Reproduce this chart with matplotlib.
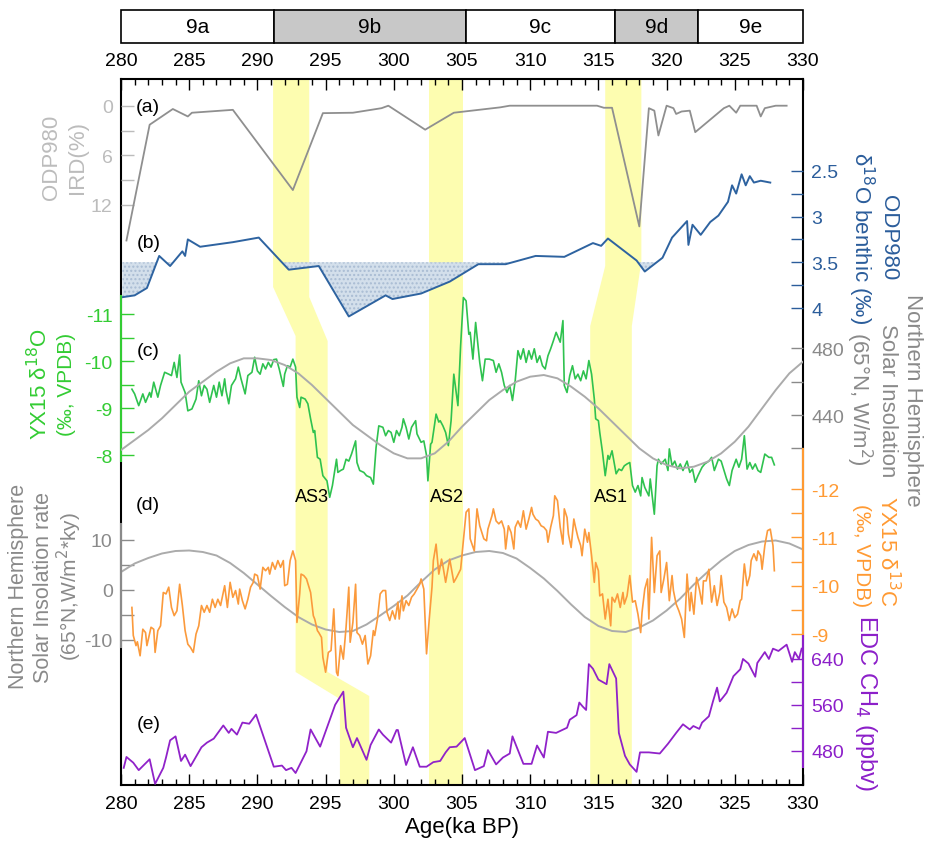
import numpy as np
import matplotlib
matplotlib.use('Agg')
import matplotlib.pyplot as plt
from matplotlib.patches import Polygon, Rectangle

plt.rcParams['font.family'] = ['Liberation Sans', 'DejaVu Sans']

# ---------------- data ----------------
# marine isotope substages (ka BP)
stage_names = ['9a', '9b', '9c', '9d', '9e']
stage_edges = [280, 291.2, 305.3, 316.2, 322.3, 330]
stage_fill = ['white', '#c8c8c8', 'white', '#c8c8c8', 'white']

# (a) ODP980 IRD (%)
ird_age = [280.4, 282.1, 283.8, 284.9, 285.2, 288.2, 292.6, 294.8, 297.0, 299.1, 299.6,
           302.3, 304.4, 307.8, 308.5, 314.9, 315.4, 316.0, 318.0, 318.7, 319.1, 319.4,
           320.0, 320.5, 320.7, 321.1, 321.7, 322.1, 324.2, 324.6, 325.1, 325.4, 326.6,
           326.9, 327.2, 328.0, 328.8]
ird_val = [16.3, 2.3, 0.4, 1.3, 0.85, 0.5, 10.2, 0.9, 0.85, 0.3, 0.0,
           2.9, 0.85, 0.2, 0.0, 0.0, 0.25, 0.25, 14.6, 0.3, 0.6, 3.6,
           0.0, 0.3, 1.0, 0.7, 0.6, 3.2, 0.3, 0.0, 0.85, 0.0, 0.0,
           1.3, 0.3, 0.0, 0.0]

# (b) ODP980 benthic d18O
ben_age = [280.1, 281.0, 281.9, 282.8, 283.6, 284.5, 284.7, 284.9, 285.8, 288.2, 290.1,
           292.3, 294.5, 296.7, 299.4, 299.9, 302.0, 304.1, 306.2, 308.2, 310.4, 312.5,
           314.6, 315.2, 315.7, 317.8, 318.4, 319.7, 320.4, 321.5, 321.6, 321.9, 322.5,
           323.2, 323.8, 324.5, 324.8, 325.1, 325.5, 325.8, 326.1, 326.4, 326.9, 327.6]
ben_val = [3.88, 3.86, 3.78, 3.43, 3.54, 3.38, 3.43, 3.25, 3.33, 3.28, 3.23,
           3.58, 3.54, 4.09, 3.86, 3.90, 3.84, 3.71, 3.52, 3.52, 3.43, 3.44,
           3.29, 3.32, 3.24, 3.48, 3.60, 3.45, 3.23, 3.05, 3.31, 3.09, 3.20,
           3.06, 2.99, 2.84, 2.66, 2.75, 2.54, 2.66, 2.56, 2.63, 2.61, 2.63]

# (c) YX15 d18O
d18_age = [280.8, 281.0, 281.3, 281.6, 281.8, 282.1, 282.2, 282.4, 282.7, 282.9, 283.2,
           283.5, 283.7, 283.9, 284.1, 284.3, 284.4, 284.7, 284.9, 285.2, 285.5, 285.7,
           285.9, 286.1, 286.3, 286.5, 286.8, 287.0, 287.2, 287.4, 287.6, 287.7, 287.9,
           288.1, 288.4, 288.6, 288.8, 289.1, 289.3, 289.6, 289.8, 290.0, 290.2, 290.4,
           290.6, 290.8, 291.0, 291.2, 291.4, 291.6, 291.9, 292.0, 292.2, 292.4, 292.6,
           292.8, 292.9, 293.1, 293.2, 293.5, 293.7, 293.9, 294.1, 294.2, 294.4, 294.6,
           294.8, 295.1, 295.3, 295.5, 295.8, 295.9, 296.1, 296.3, 296.5, 296.7, 296.9,
           297.2, 297.3, 297.5, 297.8, 298.0, 298.3, 298.5, 298.7, 298.9, 299.2, 299.4,
           299.6, 299.8, 300.0, 300.2, 300.4, 300.6, 300.7, 300.9, 301.1, 301.3, 301.6,
           301.7, 302.0, 302.2, 302.4, 302.5, 302.7, 302.8, 303.1, 303.3, 303.4, 303.6,
           303.8, 304.0, 304.2, 304.4, 304.7, 304.9, 305.1, 305.3, 305.5, 305.6, 305.8,
           306.0, 306.3, 306.5, 306.7, 307.0, 307.3, 307.5, 307.7, 307.9, 308.1, 308.3,
           308.5, 308.7, 308.9, 309.1, 309.3, 309.5, 309.7, 309.9, 310.1, 310.3, 310.5,
           310.7, 310.9, 311.1, 311.3, 311.5, 311.7, 311.9, 312.2, 312.4, 312.5, 312.7,
           312.9, 313.1, 313.3, 313.5, 313.7, 313.9, 314.1, 314.3, 314.5, 314.7, 314.8,
           315.0, 315.1, 315.3, 315.5, 315.7, 315.8, 316.0, 316.2, 316.3, 316.5, 316.7,
           316.9, 317.1, 317.3, 317.5, 317.7, 317.9, 318.1, 318.2, 318.4, 318.7, 318.8,
           319.1, 319.3, 319.4, 319.6, 319.9, 320.1, 320.2, 320.4, 320.6, 320.8, 321.0,
           321.2, 321.5, 321.7, 321.9, 322.1, 322.3, 322.6, 322.8, 323.1, 323.3, 323.5,
           323.8, 324.0, 324.4, 324.6, 324.8, 325.1, 325.3, 325.5, 325.7, 325.9, 326.1,
           326.3, 326.5, 326.7, 326.9, 327.2, 327.5, 327.7, 327.9]
d18_val = [-9.40, -9.30, -9.05, -9.30, -9.12, -9.33, -9.23, -9.55, -9.23, -9.48, -9.76,
           -9.72, -9.69, -9.97, -9.65, -10.13, -9.55, -9.33, -8.94, -8.98, -9.19, -9.58,
           -9.26, -9.48, -9.40, -9.12, -9.48, -9.23, -9.55, -9.26, -9.62, -9.37, -9.09,
           -9.48, -9.62, -9.87, -9.62, -9.30, -9.69, -9.76, -10.08, -9.79, -9.72, -9.94,
           -9.83, -9.97, -9.87, -10.03, -10.04, -9.83, -9.46, -9.72, -9.90, -9.87, -10.04,
           -9.87, -9.23, -9.01, -9.23, -9.19, -9.09, -8.77, -8.48, -8.52, -7.95, -7.91,
           -7.56, -7.45, -7.10, -7.35, -7.91, -7.63, -7.67, -7.70, -7.91, -7.87, -8.02,
           -8.30, -7.84, -7.67, -7.63, -7.56, -7.52, -7.38, -8.16, -8.62, -8.59, -8.41,
           -8.52, -8.48, -8.27, -8.52, -8.41, -8.59, -8.77, -8.59, -8.34, -8.59, -8.73,
           -8.45, -8.27, -8.30, -7.99, -7.45, -8.23, -8.27, -8.87, -8.70, -8.73, -8.62,
           -8.48, -8.20, -8.73, -9.72, -9.05, -10.33, -11.35, -11.28, -10.57, -10.61, -10.04,
           -10.82, -9.97, -9.58, -10.04, -10.04, -10.01, -9.76, -9.94, -9.76, -9.48, -9.33,
           -9.48, -9.16, -9.58, -10.22, -10.04, -10.26, -9.97, -10.22, -10.04, -10.26, -9.97,
           -10.11, -9.90, -9.83, -10.11, -10.26, -10.43, -10.61, -10.40, -10.86, -9.48, -9.33,
           -9.69, -9.90, -9.62, -9.72, -9.58, -9.79, -9.62, -10.01, -9.72, -9.19, -8.77,
           -8.73, -8.48, -8.06, -7.56, -7.99, -7.91, -8.09, -7.77, -7.60, -7.70, -7.67,
           -7.77, -7.81, -7.84, -7.35, -7.21, -7.35, -7.13, -7.52, -7.31, -7.13, -7.49,
           -6.74, -7.77, -7.91, -7.81, -7.91, -7.67, -8.13, -7.77, -7.87, -7.70, -7.81,
           -7.67, -7.87, -7.63, -7.70, -7.42, -7.56, -7.74, -7.81, -7.87, -7.95, -7.67,
           -7.91, -7.87, -7.49, -7.35, -7.67, -7.91, -7.74, -7.91, -8.41, -7.70, -7.84,
           -7.70, -7.81, -7.67, -7.63, -8.02, -7.95, -7.95, -7.79]

# 65N summer insolation (W/m2) and its rate (W/m2*ky), read at 1 ka steps
ins_age = list(range(280, 331))
ins_val = [419, 425, 431, 438, 446, 454, 460, 466, 471, 474, 474, 473, 470, 465, 458,
           450, 442, 434, 428, 422, 417, 414, 414, 417, 424, 433, 441, 449, 455, 460,
           463, 464, 462, 457, 451, 444, 436, 428, 420, 414, 410, 408, 409, 412, 417,
           424, 433, 444, 455, 465, 472]
rate_val = [3.5, 5.2, 6.3, 7.2, 7.7, 7.8, 7.5, 6.8, 5.3, 3.3, 1.0, -1.3, -3.5, -5.5, -7.0,
            -8.0, -8.5, -8.3, -7.0, -5.2, -3.3, -1.2, 1.5, 4.0, 5.8, 6.8, 7.5, 7.7, 7.3, 6.2,
            4.3, 2.2, -0.3, -3.0, -5.5, -7.3, -8.3, -8.5, -7.6, -6.2, -4.2, -1.8, 1.0, 3.5, 5.8,
            7.7, 8.9, 9.6, 9.8, 9.2, 8.0]

# (d) YX15 d13C
d13_age = [280.8, 280.9, 281.1, 281.2, 281.4, 281.6, 281.8, 281.9, 282.2, 282.4, 282.5,
           282.7, 282.9, 283.1, 283.3, 283.5, 283.7, 283.9, 284.1, 284.3, 284.5, 284.7,
           284.9, 285.1, 285.3, 285.5, 285.7, 285.9, 286.1, 286.3, 286.5, 286.7, 286.9,
           287.1, 287.3, 287.5, 287.6, 287.8, 288.0, 288.2, 288.4, 288.6, 288.7, 288.9,
           289.1, 289.3, 289.5, 289.7, 289.8, 290.0, 290.2, 290.4, 290.6, 290.8, 290.9,
           291.1, 291.3, 291.5, 291.7, 291.9, 292.0, 292.2, 292.4, 292.6, 292.8, 292.9,
           293.1, 293.2, 293.4, 293.6, 293.9, 294.1, 294.2, 294.4, 294.5, 294.7, 294.8,
           295.0, 295.2, 295.4, 295.6, 295.8, 295.9, 296.1, 296.3, 296.5, 296.7, 296.8,
           297.0, 297.2, 297.3, 297.5, 297.7, 297.9, 298.1, 298.3, 298.5, 298.6, 298.8,
           299.0, 299.2, 299.4, 299.5, 299.7, 299.9, 300.1, 300.3, 300.4, 300.6, 300.7,
           300.9, 301.1, 301.3, 301.5, 301.7, 301.9, 302.0, 302.2, 302.4, 302.6, 302.8,
           302.9, 303.1, 303.3, 303.5, 303.6, 303.8, 304.1, 304.4, 304.6, 304.9, 305.1,
           305.3, 305.5, 305.6, 305.9, 306.1, 306.3, 306.6, 306.8, 306.9, 307.2, 307.3,
           307.5, 307.7, 307.9, 308.1, 308.2, 308.4, 308.6, 308.8, 308.9, 309.1, 309.3,
           309.5, 309.7, 309.9, 310.1, 310.2, 310.4, 310.6, 310.8, 311.0, 311.2, 311.3,
           311.5, 311.7, 311.8, 312.0, 312.2, 312.4, 312.5, 312.7, 312.8, 313.0, 313.2,
           313.3, 313.5, 313.7, 313.8, 314.0, 314.2, 314.3, 314.5, 314.7, 314.8, 315.0,
           315.1, 315.3, 315.5, 315.7, 315.9, 316.0, 316.2, 316.4, 316.6, 316.8, 316.9,
           317.1, 317.3, 317.5, 317.7, 317.9, 318.1, 318.2, 318.4, 318.6, 318.7, 318.9,
           319.1, 319.3, 319.5, 319.6, 319.8, 320.0, 320.2, 320.4, 320.5, 320.7, 320.9,
           321.1, 321.3, 321.5, 321.7, 321.8, 322.0, 322.2, 322.4, 322.6, 322.7, 322.9,
           323.1, 323.3, 323.5, 323.7, 323.9, 324.0, 324.2, 324.4, 324.6, 324.8, 325.0,
           325.2, 325.4, 325.5, 325.7, 325.9, 326.1, 326.2, 326.4, 326.6, 326.7, 326.9,
           327.0, 327.2, 327.4, 327.6, 327.8, 327.9]
d13_val = [-9.55, -8.97, -8.76, -8.84, -8.55, -9.10, -9.03, -8.76, -9.14, -9.10, -8.62,
           -9.07, -9.17, -9.86, -9.83, -9.97, -9.55, -9.38, -9.48, -10.03, -9.59, -9.07,
           -8.79, -8.72, -8.62, -9.00, -9.17, -9.59, -9.45, -9.59, -9.45, -9.72, -9.55,
           -9.72, -9.59, -9.86, -10.00, -9.55, -10.07, -9.76, -9.90, -9.62, -9.93, -9.69,
           -9.52, -9.72, -9.97, -10.07, -10.24, -10.21, -9.93, -10.38, -10.31, -10.38, -10.24,
           -10.48, -10.34, -10.52, -10.38, -10.52, -10.00, -10.03, -10.52, -10.72, -10.52, -9.24,
           -9.83, -10.24, -10.21, -10.14, -9.86, -9.38, -9.31, -9.07, -9.03, -8.93, -8.52,
           -8.21, -8.62, -8.66, -9.52, -8.21, -8.14, -8.76, -8.48, -9.14, -9.97, -8.83,
           -9.24, -10.03, -9.03, -8.97, -8.79, -8.97, -8.38, -8.55, -9.07, -8.97, -9.31,
           -9.83, -9.90, -9.90, -9.45, -9.28, -9.48, -9.31, -9.66, -9.31, -9.79, -9.48,
           -9.69, -9.59, -9.76, -9.83, -9.93, -10.03, -10.14, -9.93, -8.59, -9.31, -9.97,
           -10.52, -10.86, -10.24, -10.55, -10.41, -10.07, -10.55, -10.07, -10.17, -10.34, -10.93,
           -11.52, -11.59, -10.97, -10.72, -11.59, -11.24, -10.97, -10.93, -11.17, -11.45, -11.59,
           -11.34, -11.28, -11.34, -11.17, -10.76, -11.24, -11.10, -10.76, -11.21, -11.34, -11.21,
           -11.55, -11.17, -11.38, -11.62, -11.48, -11.38, -11.34, -11.24, -11.21, -11.14, -10.90,
           -11.21, -11.45, -11.86, -11.76, -11.21, -10.86, -11.59, -11.41, -11.07, -10.79, -11.38,
           -11.24, -11.00, -10.83, -10.62, -11.17, -10.90, -11.10, -10.62, -10.07, -10.48, -10.31,
           -9.79, -9.83, -9.31, -9.72, -9.17, -9.76, -9.66, -9.83, -9.55, -9.86, -9.62,
           -9.79, -10.21, -9.66, -9.69, -9.41, -9.03, -9.45, -9.93, -10.14, -9.31, -11.00,
           -9.86, -10.62, -10.72, -9.86, -10.14, -10.48, -9.69, -10.21, -9.90, -9.62, -9.48,
           -9.31, -8.93, -10.24, -9.48, -9.86, -9.41, -10.17, -9.93, -9.62, -10.10, -10.10,
           -10.34, -9.66, -10.00, -9.59, -9.86, -10.21, -9.66, -9.55, -9.28, -9.52, -9.34,
           -9.41, -9.69, -9.72, -10.45, -10.00, -10.21, -10.52, -10.66, -10.52, -10.72, -10.62,
           -10.34, -10.83, -11.14, -11.17, -10.83, -10.31]

# (e) EDC CH4 (ppbv)
ch4_age = [280.2, 280.4, 280.9, 281.3, 282.1, 282.5, 283.1, 283.3, 283.6, 284.0, 284.4,
           284.7, 285.1, 285.9, 286.3, 286.8, 287.5, 287.9, 288.1, 288.5, 288.9, 289.4,
           289.9, 291.2, 291.8, 292.1, 292.5, 292.8, 293.6, 293.9, 294.6, 295.7, 296.3,
           296.5, 297.0, 297.3, 298.0, 298.3, 298.9, 299.2, 299.8, 300.2, 300.3, 300.9,
           301.4, 301.9, 302.4, 302.9, 303.4, 303.8, 304.1, 304.6, 305.2, 305.95, 306.6,
           306.9, 307.5, 308.0, 308.5, 308.7, 309.5, 310.1, 310.5, 311.0, 311.3, 311.9,
           312.7, 312.9, 313.4, 313.6, 313.85, 314.1, 314.3, 314.6, 315.0, 315.6, 315.8,
           316.3, 316.5, 316.95, 317.3, 317.8, 318.05, 318.7, 319.5, 320.1, 320.7, 321.2,
           321.7, 321.96, 322.4, 322.6, 323.1, 323.4, 323.7, 323.9, 324.4, 324.9, 325.4,
           325.6, 326.0, 326.5, 326.65, 327.2, 327.5, 327.8, 328.2, 328.8, 329.2, 329.4,
           329.7, 329.9]
ch4_val = [450, 469, 459, 446, 465, 422, 450, 468, 498, 505, 462,
           473, 453, 486, 494, 501, 524, 511, 518, 508, 529, 527,
           543, 452, 454, 446, 450, 441, 479, 517, 487, 560, 583,
           520, 486, 502, 464, 490, 517, 508, 494, 516, 516, 455,
           486, 452, 452, 460, 462, 477, 486, 487, 502, 446, 453,
           481, 456, 468, 475, 505, 457, 457, 489, 468, 513, 511,
           520, 534, 542, 564, 557, 551, 631, 623, 604, 596, 631,
           606, 511, 471, 456, 443, 477, 477, 475, 492, 511, 526,
           517, 523, 518, 529, 540, 566, 590, 566, 581, 610, 622,
           640, 632, 609, 633, 652, 640, 658, 654, 665, 635, 652,
           640, 658]

# ---------------- layout helpers (pixel boxes) ----------------
W, H = 934, 845
X0, X1, Y0, Y1 = 121, 803, 80, 786


def rect(x0, y0, x1, y1):
    return [x0 / W, 1 - y1 / H, (x1 - x0) / W, (y1 - y0) / H]


fig = plt.figure(figsize=(W / 100, H / 100), dpi=100)

# yellow abrupt-shift bands, y in pixels
ax_bg = fig.add_axes(rect(X0, Y0, X1, Y1))
ax_bg.set_xlim(280, 330)
ax_bg.set_ylim(Y1, Y0)
ax_bg.axis('off')
yel = '#fdfdb0'
band1 = [(291.15, Y0), (293.8, Y0), (293.8, 298), (295.15, 342), (295.15, 673),
         (298.2, 697), (298.2, Y1), (296.05, Y1), (296.05, 700), (292.8, 673),
         (292.8, 337), (291.15, 288)]
band2 = [(302.55, Y0), (305.05, Y0), (305.05, Y1), (302.55, Y1)]
band3 = [(315.5, Y0), (318.15, Y0), (318.15, 262), (317.45, 327), (317.45, Y1),
         (314.4, Y1), (314.4, 327), (315.5, 267)]
for b in (band1, band2, band3):
    ax_bg.add_patch(Polygon(b, closed=True, facecolor=yel, edgecolor='none'))

# main frame
ax = fig.add_axes(rect(X0, Y0, X1, Y1))
ax.patch.set_visible(False)
ax.set_xlim(280, 330)
ax.set_yticks([])
ax.set_xticks(np.arange(280, 331, 5))
ax.set_xticks(np.arange(280, 331, 1), minor=True)
ax.tick_params(axis='x', which='both', direction='in', top=True, bottom=True,
               labeltop=True, labelbottom=True, labelsize=14, pad=7, width=1)
ax.tick_params(axis='x', which='major', length=8)
ax.tick_params(axis='x', which='minor', length=4.5)
for s in ax.spines.values():
    s.set_linewidth(1.5)
ax.set_xlabel('Age(ka BP)', fontsize=16, labelpad=3)


def series_axes(a, b, side, color, major, labels, minor, spine_px=None):
    # a, b: pixel mapping y_px = a + b * value
    s_ax = fig.add_axes(rect(X0, Y0, X1, Y1))
    s_ax.patch.set_visible(False)
    s_ax.set_xlim(280, 330)
    s_ax.set_ylim((Y1 - a) / b, (Y0 - a) / b)
    s_ax.set_xticks([])
    for sp in s_ax.spines.values():
        sp.set_visible(False)
    s_ax.yaxis.set_ticks_position(side)
    s_ax.yaxis.set_label_position(side)
    s_ax.set_yticks(major, labels)
    s_ax.set_yticks(minor, minor=True)
    s_ax.tick_params(axis='y', which='both', direction='in', length=9, width=1,
                     color=color, labelcolor=color, labelsize=14, pad=6)
    if spine_px is not None:
        sp = s_ax.spines[side]
        sp.set_visible(True)
        sp.set_color(color)
        sp.set_linewidth(1.5)
        sp.set_bounds((spine_px[0] - a) / b, (spine_px[1] - a) / b)
    return s_ax


c_ird = '#bcbcbc'
c_blue = '#2b5d9b'
c_green = '#33cc33'
c_gray = '#8a8a8a'
c_orange = '#ff9a33'
c_purple = '#8c1fc9'

ax_a = series_axes(106.7, 8.27, 'left', c_ird, [0, 6, 12], ['0', '6', '12'], [3, 9])
ax_a.plot(ird_age, ird_val, color='#8f8f8f', lw=1.3)

ax_b = series_axes(-57.6, 91.7, 'right', c_blue, [2.5, 3, 3.5, 4], ['2.5', '3', '3.5', '4'],
                   [2.75, 3.25, 3.75])
bx = np.array(ben_age)
by = np.array(ben_val)
ax_b.fill_between(bx, 3.5, by, where=by >= 3.5, interpolate=True, facecolor='#d3dfeb',
                  edgecolor='#a9bcd3', hatch='....', linewidth=0)
ax_b.plot(bx, by, color='#2e63a0', lw=1.4)

ax_c = series_axes(832, 47, 'left', c_green, [-11, -10, -9, -8], ['-11', '-10', '-9', '-8'],
                   [-10.5, -9.5, -8.5], spine_px=(297, 462))
ax_c.plot(d18_age, d18_val, color='#2fc24f', lw=1.2)

ax_ins = series_axes(1149.5, -1.667, 'right', c_gray, [440, 480], ['440', '480'], [420, 460])
ax_ins.plot(ins_age, ins_val, color='#ababab', lw=1.4)

ax_rate = series_axes(590.5, -5, 'left', c_gray, [-10, 0, 10], ['-10', '0', '10'], [-5, 5],
                      spine_px=(525, 648))
ax_rate.plot(ins_age, rate_val, color='#ababab', lw=1.4)

ax_d = series_axes(1070, 48.33, 'right', c_orange, [-12, -11, -10, -9],
                   ['-12', '-11', '-10', '-9'], [-11.5, -10.5, -9.5], spine_px=(450, 637))
ax_d.plot(d13_age, d13_val, color='#fb9a3c', lw=1.2)

ax_e = series_axes(1026.7, -0.573, 'right', c_purple, [480, 560, 640], ['480', '560', '640'],
                   [520, 600], spine_px=(637, 768))
ax_e.plot(ch4_age, ch4_val, color='#9022c9', lw=1.3)

# stage bar
ax_st = fig.add_axes(rect(X0, 11, X1, 44))
ax_st.set_xlim(280, 330)
ax_st.set_ylim(0, 1)
ax_st.axis('off')
for i, name in enumerate(stage_names):
    l, r = stage_edges[i], stage_edges[i + 1]
    ax_st.add_patch(Rectangle((l, 0), r - l, 1, facecolor=stage_fill[i], edgecolor='black',
                              lw=1.2, clip_on=False))
    ax_st.text((l + r) / 2, 0.5, name, ha='center', va='center', fontsize=15)

# text overlay (x in ka, y in pixels)
ax_t = fig.add_axes(rect(X0, Y0, X1, Y1))
ax_t.set_xlim(280, 330)
ax_t.set_ylim(Y1, Y0)
ax_t.axis('off')
for lab, yy in [('(a)', 108), ('(b)', 243), ('(c)', 352), ('(d)', 505), ('(e)', 725)]:
    ax_t.text(282.0, yy, lab, ha='center', va='center', fontsize=14)
for lab, xx in [('AS3', 294.0), ('AS2', 303.9), ('AS1', 315.9)]:
    ax_t.text(xx, 498, lab, ha='center', va='center', fontsize=13,
              family=['Liberation Sans Narrow', 'Liberation Sans', 'DejaVu Sans'])


def ftext(x, y, s, color, rot, size=16):
    # one line of a rotated axis title, placed by pixel centre
    fig.text(x / W, 1 - y / H, s, color=color, rotation=rot, ha='center', va='center',
             fontsize=size)


# left titles
ftext(52, 157, 'ODP980', c_ird, 90)
ftext(77, 157, 'IRD(%)', c_ird, 90)
ftext(40, 384, 'YX15 δ$^{18}$O', c_green, 90)
ftext(66, 384, '(‰, VPDB)', c_green, 90, size=15)
ftext(19, 586, 'Northern Hemisphere', c_gray, 90, size=15.5)
ftext(44, 588, 'Solar Insolation rate', c_gray, 90, size=15.5)
ftext(69, 586, '(65°N,W/m$^2$*ky)', c_gray, 90, size=15)

# right titles
ftext(888, 238, 'ODP980', c_blue, 270)
ftext(861, 238, 'δ$^{18}$O benthic (‰)', c_blue, 270)
ftext(913, 400, 'Northern Hemisphere', c_gray, 270)
ftext(887, 401, 'Solar Insolation', c_gray, 270)
ftext(859, 399, '(65°N, W/m$^2$)', c_gray, 270)
ftext(887, 551, 'YX15 δ$^{13}$C', c_orange, 270)
ftext(861, 556, '(‰, VPDB)', c_orange, 270, size=15)
ftext(866, 703, 'EDC CH$_4$ (ppbv)', c_purple, 270, size=17)

fig.savefig('out.png', dpi=100)
